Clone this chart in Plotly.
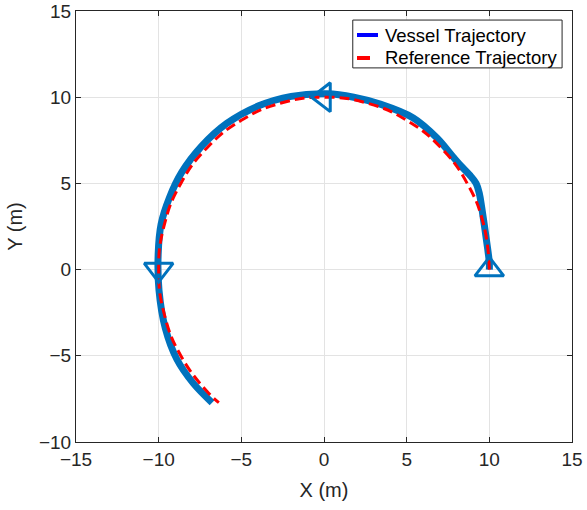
import plotly.graph_objects as go

# Vessel trajectory (m)
vessel_x = [10.0, 10.0, 9.9, 9.74, 9.54, 9.4, 9.2, 8.8, 8.3, 7.8, 6.82, 5.4, 3.4, 1.8,
            0.2, -1.98, -3.95, -5.88, -7.4, -8.6, -9.35, -9.85, -10.03, -9.98, -9.6,
            -8.9, -7.9, -6.77]
vessel_y = [0.0, 0.4, 1.2, 2.3, 3.6, 4.4, 5.0, 5.5, 6.0, 6.55, 7.65, 8.8, 9.6, 10.0,
            10.2, 10.05, 9.5, 8.48, 7.16, 5.65, 4.17, 2.65, 0.9, -1.2, -3.4,
            -5.2, -6.6, -7.72]

# Reference trajectory (m)
ref_x = [10.0, 9.66, 8.66, 7.07, 5.0, 2.59, 0.0, -2.59, -5.0, -7.07, -8.66, -9.66,
         -10.0, -9.66, -8.66, -7.07, -6.36]
ref_y = [0.0, 2.59, 5.0, 7.07, 8.66, 9.66, 10.0, 9.66, 8.66, 7.07, 5.0, 2.59,
         0.0, -2.59, -5.0, -7.07, -7.72]

# Heading markers along the path
mark_x = [10.0, 0.0, -10.0]
mark_y = [0.0, 10.0, 0.0]
mark_sym = ["triangle-up-open", "triangle-left-open", "triangle-down-open"]

x_ticks = [-15, -10, -5, 0, 5, 10, 15]
y_ticks = [-10, -5, 0, 5, 10, 15]

legend_labels = ["Vessel Trajectory", "Reference Trajectory"]

LINE_BLUE = "#0072BD"
FONT = "Liberation Sans, Arial, sans-serif"
AX_COLOR = "#262626"

fig = go.Figure()

fig.add_trace(go.Scatter(
    x=vessel_x, y=vessel_y, mode="lines",
    line=dict(color=LINE_BLUE, width=7, shape="spline", smoothing=1.0),
    showlegend=False, hoverinfo="skip"))
fig.add_trace(go.Scatter(
    x=ref_x, y=ref_y, mode="lines",
    line=dict(color="#FF0000", width=3, dash="10px,5px", shape="spline", smoothing=1.3),
    showlegend=False, hoverinfo="skip"))
fig.add_trace(go.Scatter(
    x=mark_x, y=mark_y, mode="markers",
    marker=dict(symbol=mark_sym, size=25, color=LINE_BLUE, line=dict(color=LINE_BLUE, width=3)),
    showlegend=False, hoverinfo="skip"))

axis_common = dict(
    showgrid=True, gridcolor="#E3E3E3", gridwidth=1, zeroline=False,
    showline=True, linecolor=AX_COLOR, linewidth=1, mirror="ticks",
    ticks="inside", ticklen=5, tickcolor=AX_COLOR, automargin=False,
    tickfont=dict(family=FONT, size=19, color=AX_COLOR),
)

fig.update_xaxes(range=[-15, 15], tickvals=x_ticks,
                 title=dict(text="X (m)", font=dict(family=FONT, size=20, color=AX_COLOR), standoff=14),
                 **axis_common)
fig.update_yaxes(range=[-10, 15], tickvals=y_ticks,
                 title=dict(text="Y (m)", font=dict(family=FONT, size=20, color=AX_COLOR), standoff=10),
                 **axis_common)

# Boxed legend in the upper-right corner of the axes
legend_shapes = [
    dict(type="rect", xref="paper", yref="paper", x0=0.558, x1=0.980, y0=0.868, y1=0.979,
         fillcolor="white", line=dict(color=AX_COLOR, width=1), layer="above"),
    dict(type="line", xref="paper", yref="paper", x0=0.5665, x1=0.6089, y0=0.9443, y1=0.9443,
         line=dict(color="#0000FF", width=4), layer="above"),
    dict(type="line", xref="paper", yref="paper", x0=0.5665, x1=0.5927, y0=0.891, y1=0.891,
         line=dict(color="#FF0000", width=4), layer="above"),
]
legend_notes = [
    dict(text=legend_labels[0], xref="paper", yref="paper", x=0.619, y=0.9443,
         xanchor="left", yanchor="middle", showarrow=False,
         font=dict(family=FONT, size=18.5, color="black")),
    dict(text=legend_labels[1], xref="paper", yref="paper", x=0.619, y=0.891,
         xanchor="left", yanchor="middle", showarrow=False,
         font=dict(family=FONT, size=18.5, color="black")),
]

fig.update_layout(
    width=587, height=510,
    margin=dict(l=76, r=15, t=11, b=68),
    paper_bgcolor="white", plot_bgcolor="white",
    showlegend=False,
    shapes=legend_shapes,
    annotations=legend_notes,
)

fig.write_html("out.html")
